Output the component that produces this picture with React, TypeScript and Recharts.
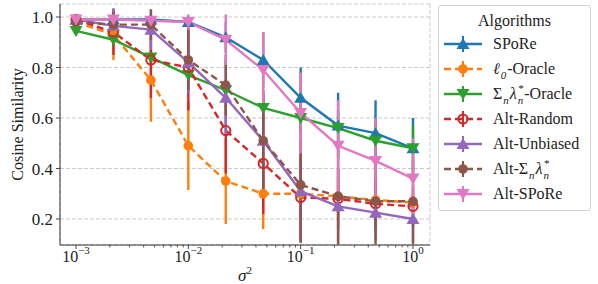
import React from 'react';
import { LineChart, Line, XAxis, YAxis, CartesianGrid, ErrorBar } from 'recharts';

// noise variance sweep (log-spaced)
const sigma2 = [1e-3, 2.154e-3, 4.642e-3, 1e-2, 2.154e-2, 4.642e-2, 1e-1, 2.154e-1, 4.642e-1, 1];

const spore = [0.99, 0.99, 0.99, 0.98, 0.92, 0.83, 0.68, 0.57, 0.54, 0.48];
const sporeErr = [0.01, 0.01, 0.01, 0.02, 0.06, 0.11, 0.12, 0.13, 0.13, 0.12];
const l0Oracle = [0.98, 0.93, 0.75, 0.49, 0.35, 0.3, 0.3, 0.29, 0.275, 0.265];
const l0OracleErr = [0.02, 0.1, 0.165, 0.175, 0.17, 0.14, 0.1, 0.08, 0.05, 0.04];
const sumOracle = [0.945, 0.91, 0.84, 0.77, 0.71, 0.64, 0.6, 0.56, 0.51, 0.48];
const sumOracleErr = [0.01, 0.02, 0.03, 0.03, 0.04, 0.05, 0.06, 0.07, 0.08, 0.09];
const altRandom = [0.99, 0.94, 0.83, 0.8, 0.55, 0.42, 0.285, 0.28, 0.26, 0.25];
const altRandomErr = [0.01, 0.09, 0.15, 0.17, 0.17, 0.2, 0.17, 0.12, 0.1, 0.08];
const altUnbiased = [0.99, 0.965, 0.95, 0.82, 0.68, 0.51, 0.31, 0.25, 0.225, 0.2];
const altUnbiasedErr = [0.01, 0.07, 0.08, 0.12, 0.15, 0.2, 0.2, 0.15, 0.11, 0.09];
const altSum = [0.98, 0.97, 0.97, 0.83, 0.73, 0.51, 0.335, 0.29, 0.27, 0.27];
const altSumErr = [0.02, 0.05, 0.06, 0.12, 0.12, 0.2, 0.23, 0.19, 0.17, 0.17];
const altSpore = [0.99, 0.99, 0.985, 0.98, 0.91, 0.79, 0.62, 0.49, 0.43, 0.36];
const altSporeErr = [0.01, 0.02, 0.02, 0.03, 0.1, 0.15, 0.16, 0.18, 0.17, 0.16];

const xMajor = [1e-3, 1e-2, 1e-1, 1];
const xMinor = [2, 3, 4, 5, 6, 7, 8, 9].flatMap((m) => [m * 1e-3, m * 1e-2, m * 1e-1]);
const yTicks = [0.2, 0.4, 0.6, 0.8, 1.0];

const X_DOMAIN = [Math.pow(10, -3.1425), Math.pow(10, 0.1514)];
const Y_DOMAIN = [0.097, 1.0515];

const data = sigma2.map((s, i) => ({
  s,
  spore: spore[i], sporeErr: sporeErr[i],
  l0: l0Oracle[i], l0Err: l0OracleErr[i],
  sum: sumOracle[i], sumErr: sumOracleErr[i],
  rnd: altRandom[i], rndErr: altRandomErr[i],
  unb: altUnbiased[i], unbErr: altUnbiasedErr[i],
  asum: altSum[i], asumErr: altSumErr[i],
  aspore: altSpore[i], asporeErr: altSporeErr[i],
}));

type Marker = 'up' | 'down' | 'circle' | 'ring';

const SERIES: { key: string; color: string; marker: Marker; dashed: boolean }[] = [
  { key: 'spore', color: '#1f77b4', marker: 'up', dashed: false },
  { key: 'l0', color: '#ff7f0e', marker: 'circle', dashed: true },
  { key: 'sum', color: '#2ca02c', marker: 'down', dashed: false },
  { key: 'rnd', color: '#d62728', marker: 'ring', dashed: true },
  { key: 'unb', color: '#9467bd', marker: 'up', dashed: false },
  { key: 'asum', color: '#8c564b', marker: 'circle', dashed: true },
  { key: 'aspore', color: '#e377c2', marker: 'down', dashed: false },
];

const AXIS = '#333';
const SERIF = '"Liberation Serif", "Times New Roman", serif';
const LW = 2.4;
const DASH = '7 4';

function markerShape(kind: Marker, color: string, cx: number, cy: number, key?: React.Key) {
  if (kind === 'up') {
    return <path key={key} d={`M${cx},${cy - 6} L${cx + 6.5},${cy + 5} L${cx - 6.5},${cy + 5} Z`} fill={color} />;
  }
  if (kind === 'down') {
    return <path key={key} d={`M${cx},${cy + 6} L${cx + 6.5},${cy - 5} L${cx - 6.5},${cy - 5} Z`} fill={color} />;
  }
  if (kind === 'ring') {
    return <circle key={key} cx={cx} cy={cy} r={4.6} fill="none" stroke={color} strokeWidth={2} />;
  }
  return <circle key={key} cx={cx} cy={cy} r={4.8} fill={color} />;
}

function XTick(props: any) {
  const { x, y, payload } = props;
  const lg = Math.log10(payload.value);
  const exp = Math.round(lg);
  if (Math.abs(lg - exp) > 1e-6) {
    return <line x1={x} x2={x} y1={y} y2={y + 2.5} stroke={AXIS} strokeWidth={0.8} />;
  }
  return (
    <g>
      <line x1={x} x2={x} y1={y} y2={y + 4} stroke={AXIS} strokeWidth={0.9} />
      <text x={x} y={y + 17} textAnchor="middle" fontFamily={SERIF} fontSize={16} fill="#222">
        10
        <tspan dy={-8} fontSize={11}>{exp < 0 ? `\u2212${-exp}` : `${exp}`}</tspan>
      </text>
    </g>
  );
}

function XLabel(props: any) {
  const { viewBox } = props;
  return (
    <text x={viewBox.x + viewBox.width / 2} y={viewBox.y + 36} textAnchor="middle" fontFamily={SERIF} fontSize={17} fill="#222">
      <tspan fontStyle="italic">σ</tspan>
      <tspan dy={-7} fontSize={11}>2</tspan>
    </text>
  );
}

function YLabel(props: any) {
  const { viewBox } = props;
  const cx = 17;
  const cy = viewBox.y + viewBox.height / 2;
  return (
    <text x={cx} y={cy} transform={`rotate(-90 ${cx} ${cy})`} textAnchor="middle" dominantBaseline="central" fontFamily={SERIF} fontSize={16} fill="#222">
      Cosine Similarity
    </text>
  );
}

function SubSup({ sub, sup }: { sub: string; sup?: string }) {
  return (
    <span style={{ display: 'inline-flex', flexDirection: 'column', verticalAlign: 'middle', lineHeight: '9px', fontSize: 11, fontStyle: 'italic', marginLeft: 1, marginRight: 1 }}>
      <span style={{ height: 9 }}>{sup ?? '\u00a0'}</span>
      <span style={{ height: 9, marginTop: 3 }}>{sub}</span>
    </span>
  );
}

const LABELS: React.ReactNode[] = [
  <>SPoRe</>,
  <><i>ℓ</i><SubSup sub="0" />-Oracle</>,
  <>Σ<SubSup sub="n" /><i>λ</i><SubSup sub="n" sup="*" />-Oracle</>,
  <>Alt-Random</>,
  <>Alt-Unbiased</>,
  <>Alt-Σ<SubSup sub="n" /><i>λ</i><SubSup sub="n" sup="*" /></>,
  <>Alt-SPoRe</>,
];

function LegendBox() {
  return (
    <div style={{
      position: 'absolute', left: 438, top: 5, width: 151, height: 204,
      border: '1px solid #d4d4d4', borderRadius: 3, background: 'rgba(255,255,255,0.85)',
      fontFamily: SERIF, fontSize: 16, color: '#222',
    }}>
      <div style={{ position: 'absolute', top: 5, width: '100%', textAlign: 'center', lineHeight: '20px' }}>Algorithms</div>
      {SERIES.map((s, i) => {
        const top = 38 + 25 * i;
        return (
          <div key={s.key} style={{ position: 'absolute', left: 0, top: top - 12, height: 24, width: '100%' }}>
            <svg width={44} height={24} style={{ position: 'absolute', left: 3, top: 0 }}>
              <line x1={2} x2={40} y1={12} y2={12} stroke={s.color} strokeWidth={LW} strokeDasharray={s.dashed ? DASH : undefined} />
              <line x1={21} x2={21} y1={4} y2={20} stroke={s.color} strokeWidth={2} />
              {markerShape(s.marker, s.color, 21, 12)}
            </svg>
            <div style={{ position: 'absolute', left: 54, top: 0, height: 24, display: 'flex', alignItems: 'center', whiteSpace: 'nowrap' }}>
              {LABELS[i]}
            </div>
          </div>
        );
      })}
    </div>
  );
}

export default function App() {
  return (
    <div style={{ position: 'absolute', left: 0, top: 0, width: 598, height: 284, background: '#fff' }}>
      <LineChart width={598} height={284} data={data} margin={{ top: 4, right: 168, bottom: 0, left: 0 }}>
        <XAxis
          xAxisId="t" orientation="top" type="number" scale="log" dataKey="s"
          domain={X_DOMAIN} allowDataOverflow ticks={xMajor} tick={false} tickLine={false}
          height={0} stroke={AXIS} axisLine={{ stroke: AXIS, strokeWidth: 1 }}
        />
        <YAxis
          yAxisId="r" orientation="right" type="number" domain={Y_DOMAIN} allowDataOverflow
          tick={false} tickLine={false} width={0} axisLine={{ stroke: AXIS, strokeWidth: 1 }}
        />
        <CartesianGrid xAxisId="t" yAxisId="l" stroke="#c4c4c4" strokeDasharray="4 2" strokeWidth={0.9} />
        <XAxis
          xAxisId="b" type="number" scale="log" dataKey="s" domain={X_DOMAIN} allowDataOverflow
          ticks={[...xMajor, ...xMinor]} interval={0} tick={<XTick />} tickLine={false}
          tickSize={0} tickMargin={0} height={39} axisLine={{ stroke: AXIS, strokeWidth: 1 }}
          label={{ content: (p: any) => <XLabel {...p} /> }}
        />
        <YAxis
          yAxisId="l" type="number" domain={Y_DOMAIN} allowDataOverflow ticks={yTicks} width={60}
          tickFormatter={(v: number) => v.toFixed(1)} tickSize={4} tickMargin={3}
          tick={{ fontFamily: SERIF, fontSize: 17, fill: '#222' }}
          tickLine={{ stroke: AXIS, strokeWidth: 0.9 }} axisLine={{ stroke: AXIS, strokeWidth: 1 }}
          label={{ content: (p: any) => <YLabel {...p} /> }}
        />
        {SERIES.map((s) => (
          <Line
            key={s.key} xAxisId="b" yAxisId="l" dataKey={s.key} stroke={s.color} strokeWidth={LW}
            strokeDasharray={s.dashed ? DASH : undefined} isAnimationActive={false} activeDot={false}
            dot={(p: any) => markerShape(s.marker, s.color, p.cx, p.cy, p.index)}
          >
            <ErrorBar dataKey={`${s.key}Err`} direction="y" width={0} stroke={s.color} strokeWidth={LW} isAnimationActive={false} />
          </Line>
        ))}
      </LineChart>
      <LegendBox />
    </div>
  );
}
